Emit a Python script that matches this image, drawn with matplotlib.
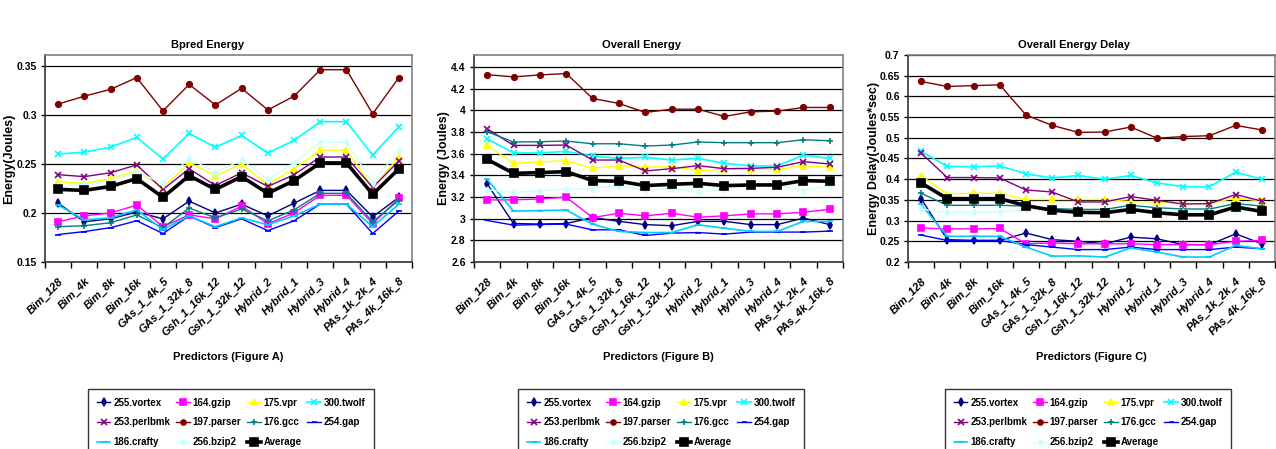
"""
Branch predictor energy charts (Figure A, B, C)
"""

import numpy as np
import matplotlib
matplotlib.use("Agg")
import matplotlib.pyplot as plt
from matplotlib.lines import Line2D

plt.rcParams['font.family'] = ['Liberation Sans', 'DejaVu Sans']
plt.rcParams['font.weight'] = 'bold'

# Predictor names (x axis)
predictors = ["Bim_128", "Bim_4k", "Bim_8k", "Bim_16k", "GAs_1_4k_5", "GAs_1_32k_8",
              "Gsh_1_16k_12", "Gsh_1_32k_12", "Hybrid_2", "Hybrid_1", "Hybrid_3",
              "Hybrid_4", "PAs_1k_2k_4", "PAs_4k_16k_8"]

benchmarks = ["255.vortex", "164.gzip", "175.vpr", "300.twolf", "253.perlbmk",
              "197.parser", "176.gcc", "254.gap", "186.crafty", "256.bzip2", "Average"]

# Figure A - Bpred energy (Joules)
bpred_vortex = [0.210, 0.191, 0.194, 0.201, 0.194, 0.212, 0.200, 0.209, 0.197, 0.210, 0.223, 0.223, 0.196, 0.216]
bpred_gzip = [0.191, 0.197, 0.200, 0.208, 0.186, 0.198, 0.194, 0.207, 0.189, 0.200, 0.218, 0.218, 0.189, 0.215]
bpred_vpr = [0.232, 0.230, 0.235, 0.243, 0.226, 0.251, 0.238, 0.250, 0.229, 0.245, 0.264, 0.264, 0.226, 0.257]
bpred_twolf = [0.260, 0.262, 0.267, 0.277, 0.255, 0.281, 0.267, 0.279, 0.261, 0.274, 0.293, 0.293, 0.259, 0.288]
bpred_perlbmk = [0.239, 0.237, 0.241, 0.249, 0.224, 0.245, 0.228, 0.241, 0.227, 0.239, 0.257, 0.257, 0.226, 0.253]
bpred_parser = [0.311, 0.319, 0.326, 0.338, 0.304, 0.331, 0.310, 0.327, 0.305, 0.319, 0.346, 0.346, 0.301, 0.338]
bpred_gcc = [0.186, 0.187, 0.190, 0.198, 0.185, 0.205, 0.195, 0.204, 0.192, 0.203, 0.220, 0.220, 0.191, 0.213]
bpred_gap = [0.178, 0.181, 0.185, 0.192, 0.179, 0.197, 0.185, 0.194, 0.182, 0.192, 0.209, 0.209, 0.179, 0.202]
bpred_crafty = [0.208, 0.193, 0.195, 0.203, 0.183, 0.197, 0.186, 0.195, 0.188, 0.197, 0.209, 0.209, 0.186, 0.209]
bpred_bzip2 = [0.227, 0.229, 0.232, 0.242, 0.230, 0.256, 0.241, 0.254, 0.234, 0.251, 0.272, 0.272, 0.231, 0.264]
bpred_average = [0.224, 0.223, 0.227, 0.235, 0.216, 0.238, 0.224, 0.237, 0.220, 0.233, 0.251, 0.251, 0.219, 0.245]

# Figure B - overall energy (Joules)
overall_vortex = [3.32, 2.955, 2.95, 2.955, 3.01, 2.975, 2.945, 2.935, 2.975, 2.975, 2.945, 2.945, 3.005, 2.945]
overall_gzip = [3.173, 3.173, 3.182, 3.198, 3.01, 3.05, 3.026, 3.05, 3.013, 3.026, 3.044, 3.044, 3.059, 3.087]
overall_vpr = [3.676, 3.511, 3.523, 3.535, 3.464, 3.489, 3.474, 3.48, 3.443, 3.455, 3.455, 3.455, 3.489, 3.474]
overall_twolf = [3.737, 3.606, 3.606, 3.621, 3.578, 3.556, 3.566, 3.541, 3.556, 3.511, 3.486, 3.486, 3.587, 3.556]
overall_perlbmk = [3.829, 3.676, 3.676, 3.679, 3.541, 3.541, 3.44, 3.461, 3.489, 3.461, 3.464, 3.474, 3.526, 3.504]
overall_parser = [4.329, 4.308, 4.326, 4.339, 4.109, 4.063, 3.98, 4.01, 4.01, 3.943, 3.986, 3.992, 4.026, 4.026]
overall_gcc = [3.802, 3.707, 3.71, 3.716, 3.691, 3.691, 3.67, 3.679, 3.707, 3.701, 3.701, 3.701, 3.728, 3.719]
overall_gap = [2.983, 2.94, 2.946, 2.949, 2.897, 2.897, 2.845, 2.866, 2.872, 2.857, 2.876, 2.876, 2.876, 2.885]
overall_crafty = [3.363, 3.069, 3.075, 3.078, 2.949, 2.882, 2.872, 2.872, 2.943, 2.912, 2.882, 2.882, 2.974, 2.974]
overall_bzip2 = [3.265, 3.244, 3.259, 3.271, 3.277, 3.305, 3.265, 3.274, 3.244, 3.274, 3.305, 3.305, 3.259, 3.305]
overall_average = [3.547, 3.418, 3.425, 3.434, 3.351, 3.345, 3.305, 3.317, 3.326, 3.305, 3.311, 3.311, 3.351, 3.345]

# Figure C - overall energy delay (Joules*sec)
delay_vortex = [0.353, 0.254, 0.252, 0.252, 0.270, 0.254, 0.250, 0.244, 0.260, 0.256, 0.242, 0.242, 0.268, 0.244]
delay_gzip = [0.282, 0.280, 0.280, 0.281, 0.244, 0.246, 0.244, 0.244, 0.244, 0.242, 0.242, 0.242, 0.250, 0.252]
delay_vpr = [0.408, 0.365, 0.366, 0.366, 0.351, 0.351, 0.351, 0.351, 0.346, 0.345, 0.341, 0.341, 0.355, 0.347]
delay_twolf = [0.467, 0.431, 0.430, 0.432, 0.413, 0.403, 0.409, 0.400, 0.409, 0.391, 0.382, 0.382, 0.417, 0.400]
delay_perlbmk = [0.463, 0.404, 0.404, 0.403, 0.374, 0.369, 0.345, 0.345, 0.358, 0.349, 0.340, 0.341, 0.363, 0.347]
delay_parser = [0.636, 0.624, 0.626, 0.628, 0.555, 0.530, 0.513, 0.514, 0.526, 0.499, 0.503, 0.505, 0.530, 0.519]
delay_gcc = [0.366, 0.337, 0.337, 0.337, 0.335, 0.329, 0.327, 0.327, 0.337, 0.331, 0.328, 0.328, 0.341, 0.335]
delay_gap = [0.265, 0.252, 0.252, 0.252, 0.242, 0.236, 0.230, 0.230, 0.236, 0.230, 0.230, 0.230, 0.236, 0.232]
delay_crafty = [0.339, 0.262, 0.262, 0.262, 0.236, 0.214, 0.215, 0.212, 0.234, 0.224, 0.212, 0.212, 0.240, 0.232]
delay_bzip2 = [0.328, 0.320, 0.320, 0.321, 0.327, 0.327, 0.323, 0.323, 0.327, 0.323, 0.320, 0.320, 0.323, 0.323]
delay_average = [0.391, 0.353, 0.353, 0.353, 0.336, 0.325, 0.320, 0.319, 0.327, 0.319, 0.314, 0.314, 0.333, 0.322]

# Series style: colour, marker, marker size, line width
styles = {
    "255.vortex": ("#000080", "d", 4, 1.0),
    "164.gzip": ("#FF00FF", "s", 4.5, 1.0),
    "175.vpr": ("#FFFF00", "^", 4.5, 1.0),
    "300.twolf": ("#00FFFF", "x", 4.5, 1.2),
    "253.perlbmk": ("#800080", "x", 4.5, 1.0),
    "197.parser": ("#800000", "o", 4, 1.0),
    "176.gcc": ("#008080", "+", 5, 1.0),
    "254.gap": ("#0000FF", "_", 4, 1.0),
    "186.crafty": ("#00CCFF", "_", 4, 1.2),
    "256.bzip2": ("#CCFFFF", "d", 3.5, 1.0),
    "Average": ("#000000", "s", 6, 2.6),
}

panels = [
    {"series": [bpred_vortex, bpred_gzip, bpred_vpr, bpred_twolf, bpred_perlbmk, bpred_parser,
                bpred_gcc, bpred_gap, bpred_crafty, bpred_bzip2, bpred_average],
     "title": "Bpred Energy", "ylabel": "Energy(Joules)", "xlabel": "Predictors (Figure A)",
     "ylim": (0.15, 0.361), "yticks": [0.15, 0.2, 0.25, 0.3, 0.35],
     "rect": (45, 412), "title_x": 208, "legend_x": 88, "ylabel_x": 15},
    {"series": [overall_vortex, overall_gzip, overall_vpr, overall_twolf, overall_perlbmk, overall_parser,
                overall_gcc, overall_gap, overall_crafty, overall_bzip2, overall_average],
     "title": "Overall Energy", "ylabel": "Energy (Joules)", "xlabel": "Predictors (Figure B)",
     "ylim": (2.6, 4.51), "yticks": [2.6, 2.8, 3.0, 3.2, 3.4, 3.6, 3.8, 4.0, 4.2, 4.4],
     "rect": (474, 843), "title_x": 641, "legend_x": 518, "ylabel_x": 450},
    {"series": [delay_vortex, delay_gzip, delay_vpr, delay_twolf, delay_perlbmk, delay_parser,
                delay_gcc, delay_gap, delay_crafty, delay_bzip2, delay_average],
     "title": "Overall Energy Delay", "ylabel": "Energy Delay(Joules*sec)", "xlabel": "Predictors (Figure C)",
     "ylim": (0.2, 0.7), "yticks": [0.2, 0.25, 0.3, 0.35, 0.4, 0.45, 0.5, 0.55, 0.6, 0.65, 0.7],
     "rect": (908, 1275), "title_x": 1074, "legend_x": 945, "ylabel_x": 880},
]

W, H = 1276, 449
fig = plt.figure(figsize=(W / 100, H / 100), dpi=100)

x = np.arange(len(predictors))
top_px, bottom_px = 55, 262

for p in panels:
    left, right = p["rect"]
    ax = fig.add_axes([left / W, 1 - bottom_px / H, (right - left) / W, (bottom_px - top_px) / H])

    # horizontal gridlines at major ticks
    for yv in p["yticks"]:
        ax.axhline(yv, color="black", lw=0.9, zorder=1)

    for name, vals in zip(benchmarks, p["series"]):
        col, mk, ms, lw = styles[name]
        ax.plot(x, vals, color=col, marker=mk, markersize=ms, lw=lw,
                markeredgewidth=1.2, zorder=3 if name != "Average" else 4)

    ax.set_xlim(-0.5, len(predictors) - 0.5)
    ax.set_ylim(*p["ylim"])
    ax.set_yticks(p["yticks"])
    ax.set_yticklabels(["{:g}".format(v) for v in p["yticks"]], fontsize=7.5, fontweight="bold")
    ax.tick_params(axis="y", length=3, width=1, pad=3)

    # category labels in the middle, tick marks on boundaries
    ax.set_xticks(x)
    ax.set_xticklabels(predictors, rotation=45, ha="right", rotation_mode="anchor",
                       fontsize=8, fontweight="bold", fontstyle="italic")
    ax.tick_params(axis="x", length=0, pad=10)
    ax.set_xticks(np.arange(len(predictors) + 1) - 0.5, minor=True)
    ax.tick_params(axis="x", which="minor", length=4, width=1)

    for side in ["top", "right"]:
        ax.spines[side].set_color("#808080")
        ax.spines[side].set_linewidth(1.2)
    for side in ["left", "bottom"]:
        ax.spines[side].set_color("#333333")
        ax.spines[side].set_linewidth(1.2)

    ax.set_ylabel(p["ylabel"], fontsize=9, fontweight="bold")
    ax.yaxis.set_label_coords((p["ylabel_x"] - left) / (right - left), 0.5)

    fig.text(p["title_x"] / W, 1 - 45 / H, p["title"], ha="center", va="center",
             fontsize=8, fontweight="bold")
    fig.text((left + right) / 2 / W, 1 - 357 / H, p["xlabel"], ha="center", va="center",
             fontsize=8, fontweight="bold")

    # legend: row-wise order like the original (4 columns)
    handles = []
    for name in benchmarks:
        col, mk, ms, lw = styles[name]
        handles.append(Line2D([], [], color=col, marker=mk, markersize=ms * 0.9, lw=lw,
                              markeredgewidth=1.2))
    order = [0, 4, 8, 1, 5, 9, 2, 6, 10, 3, 7]
    leg = fig.legend([handles[i] for i in order], [benchmarks[i] for i in order],
                     loc="upper left", bbox_to_anchor=(p["legend_x"] / W, 1 - 389 / H),
                     ncol=4, fontsize=7, frameon=True, fancybox=False, edgecolor="black",
                     handlelength=1.4, handletextpad=0.3, columnspacing=0.6,
                     labelspacing=1.0, borderpad=0.9, borderaxespad=0)
    leg.get_frame().set_linewidth(1.0)
    for t in leg.get_texts():
        t.set_fontweight("bold")

fig.savefig("out.png", dpi=100)
